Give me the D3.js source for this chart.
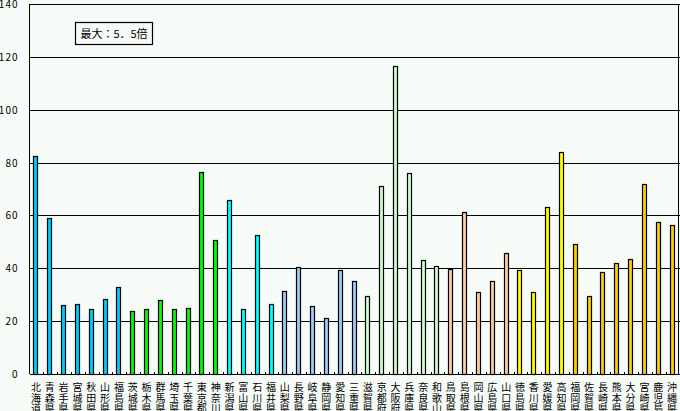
<!DOCTYPE html>
<html>
<head>
<meta charset="utf-8">
<script src="https://cdn.jsdelivr.net/npm/d3@7"></script>
<style>
  body { margin: 0; background: #f6fbf7; }
  svg text { font-family: "Noto Sans CJK JP", "DejaVu Sans", sans-serif; }
</style>
</head>
<body>
<div id="viz"></div>
<script>
var prefs = ["北海道","青森県","岩手県","宮城県","秋田県","山形県","福島県",
  "茨城県","栃木県","群馬県","埼玉県","千葉県","東京都","神奈川",
  "新潟県","富山県","石川県","福井県",
  "山梨県","長野県","岐阜県","静岡県","愛知県","三重県",
  "滋賀県","京都府","大阪府","兵庫県","奈良県","和歌山",
  "鳥取県","島根県","岡山県","広島県","山口県",
  "徳島県","香川県","愛媛県","高知県",
  "福岡県","佐賀県","長崎県","熊本県","大分県","宮崎県","鹿児島","沖縄県"];
var values = [82.5, 58.9, 26.1, 26.5, 24.6, 28.3, 32.9,
  23.8, 24.6, 28.0, 24.6, 25.0, 76.4, 50.7,
  65.8, 24.6, 52.6, 26.5,
  31.4, 40.5, 25.7, 21.2, 39.3, 35.2,
  29.5, 71.1, 116.5, 76.0, 43.1, 40.9,
  39.7, 61.3, 31.0, 35.2, 45.8,
  39.3, 31.0, 63.2, 84.0,
  49.2, 29.5, 38.6, 42.0, 43.5, 71.9, 57.5, 56.4];
// region of each prefecture (index into regionColors)
var regions = [0,0,0,0,0,0,0, 1,1,1,1,1,1,1, 2,2,2,2, 3,3,3,3,3,3,
  4,4,4,4,4,4, 5,5,5,5,5, 6,6,6,6, 7,7,7,7,7,7,7,7];
var regionColors = ["#00ccff","#00ff00","#00ffff","#99ccff","#ccffcc","#ffcc99","#ffff00","#ffcc00"];
var yTicks = [0, 20, 40, 60, 80, 100, 120, 140];
var note = "最大：5．5倍";

var width = 680, height = 411,
    margin = {top: 4, right: 0.5, bottom: 37, left: 29.5};

var svg = d3.select('#viz').append("svg")
  .attr("width", width)
  .attr("height", height);

var x = d3.scaleBand().domain(prefs).range([margin.left, width - margin.right]);
var y = d3.scaleLinear().domain([0, 140]).range([height - margin.bottom, margin.top]);

// grid lines + y labels
var yAxis = d3.axisLeft(y).tickValues(yTicks).tickSize(-(width - margin.right - margin.left)).tickPadding(12);
var gy = svg.append("g")
  .attr("transform", `translate(${margin.left},0)`)
  .call(yAxis);
gy.select(".domain").remove();
gy.selectAll(".tick line").attr("stroke", "#000").attr("stroke-width", 1)
  .attr("shape-rendering", "crispEdges");
gy.selectAll(".tick text").attr("font-size", 10).attr("fill", "#000")
  .attr("letter-spacing", 1).attr("x", -11).attr("dy", "0.35em");

// frame
svg.append("g").attr("shape-rendering", "crispEdges").selectAll("line")
  .data([margin.left, width - margin.right - 1])
  .enter().append("line")
  .attr("x1", d => d).attr("x2", d => d)
  .attr("y1", y(140)).attr("y2", y(0))
  .attr("stroke", "#000");

// small ticks between categories
svg.append("g").attr("shape-rendering", "crispEdges").selectAll("line")
  .data(prefs.slice(1))
  .enter().append("line")
  .attr("x1", d => Math.round(x(d)) + 0.5)
  .attr("x2", d => Math.round(x(d)) + 0.5)
  .attr("y1", y(0) - 2)
  .attr("y2", y(0))
  .attr("stroke", "#000");

// bars
svg.append("g").selectAll("rect")
  .data(values)
  .enter().append("rect")
  .attr("x", (d, i) => Math.round(x(prefs[i]) + x.bandwidth() / 2 - 3) + 0.5)
  .attr("y", d => Math.round(y(d)) + 0.5)
  .attr("width", 4)
  .attr("height", d => Math.round(y(0)) - Math.round(y(d)))
  .attr("fill", (d, i) => regionColors[regions[i]])
  .attr("stroke", "#000")
  .attr("stroke-width", 1.2);

// vertical category labels
var lab = svg.append("g").selectAll("text")
  .data(prefs)
  .enter().append("text")
  .attr("font-size", 10)
  .attr("fill", "#000")
  .attr("text-anchor", "middle");
lab.each(function(d) {
  var t = d3.select(this);
  var cx = x(d) + x.bandwidth() / 2 - 0.5;
  Array.from(d).forEach((ch, k) => {
    t.append("tspan").attr("x", cx).attr("y", 391 + k * 10.5).text(ch);
  });
});

// note box
svg.append("rect").attr("x", 75.5).attr("y", 22.5).attr("width", 77).attr("height", 22)
  .attr("fill", "none").attr("stroke", "#000").attr("stroke-width", 1.2);
svg.append("text").attr("x", 114).attr("y", 37.5).attr("text-anchor", "middle")
  .attr("font-size", 11).attr("fill", "#000").text(note);
</script>
</body>
</html>
